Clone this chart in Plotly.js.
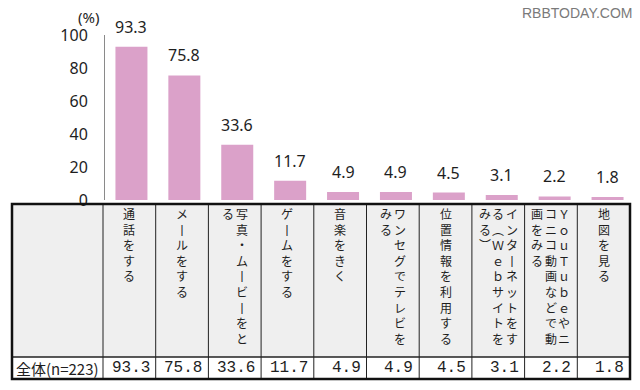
<!DOCTYPE html>
<html><head><meta charset="utf-8">
<script src="https://cdn.plot.ly/plotly-3.0.1.min.js"></script>
<style>html,body{margin:0;padding:0;background:#fff;}#chart{width:640px;height:390px;}</style>
</head><body><div id="chart"></div>
<script>
// ---- data ----
const categories = ["通話をする","メールをする","写真・ムービーをとる","ゲームをする","音楽をきく","ワンセグでテレビをみる","位置情報を利用する","インターネットをする（Ｗｅｂサイトをみる）","ＹｏｕＴｕｂｅやニコニコ動画などで動画をみる","地図を見る"];
const values = [93.3, 75.8, 33.6, 11.7, 4.9, 4.9, 4.5, 3.1, 2.2, 1.8];
const tableValues = ["93.3","75.8","33.6","11.7","4.9","4.9","4.5","3.1","2.2","1.8"];
const rowLabel = "全体(n=223)";
const yTicks = [0, 20, 40, 60, 80, 100];
const unitLabel = "(%)";
const watermark = "RBBTODAY.COM";

// ---- geometry (pixels) ----
const W = 640, H = 390;
const plotL = 105, plotR = 634, plotT = 35, plotB = 200;
const pw = plotR - plotL, ph = plotB - plotT;
const px2x = p => (p - plotL) / pw;
const py2y = p => (plotB - p) / ph;
const tL = 12, tR = 630, tTop = 204, tHead = 357, tBot = 379, c0 = 103;
const colW = (tR - c0) / categories.length;

const barColor = "#DBA1C9";
const txt = "#1e1e1e";

const shapes = [];
const annotations = [];

// table background + lines
shapes.push({type:"rect", xref:"paper", yref:"paper", x0:px2x(tL), x1:px2x(tR), y0:py2y(tTop), y1:py2y(tHead), fillcolor:"#efefef", line:{width:0}, layer:"below"});
for (let i = 0; i < categories.length; i++) {
  const x = c0 + i * colW;
  shapes.push({type:"line", xref:"paper", yref:"paper", x0:px2x(x), x1:px2x(x), y0:py2y(tTop), y1:py2y(tBot), line:{color:"#222", width:1}});
}
shapes.push({type:"line", xref:"paper", yref:"paper", x0:px2x(tL), x1:px2x(tR), y0:py2y(tHead), y1:py2y(tHead), line:{color:"#222", width:1.5}});
shapes.push({type:"rect", xref:"paper", yref:"paper", x0:px2x(tL), x1:px2x(tR), y0:py2y(tTop), y1:py2y(tBot), line:{color:"#111", width:2.5}});

// vertical header labels
const vmap = {"ー":"丨","（":"︵","）":"︶"};
const perCol = 9, pitch = 13.5;
categories.forEach((c, i) => {
  const chars = Array.from(c).map(ch => vmap[ch] || ch);
  const chunks = [];
  for (let k = 0; k < chars.length; k += perCol) chunks.push(chars.slice(k, k + perCol));
  const cx = c0 + (i + 0.5) * colW;
  chunks.forEach((chunk, j) => {
    const x = cx + (chunks.length - 1) / 2 * pitch - j * pitch;
    annotations.push({xref:"paper", yref:"paper", x:px2x(x), y:py2y(203), xanchor:"center", yanchor:"top",
      text: chunk.join("<br>"), showarrow:false, align:"center",
      font:{family:"Noto Sans CJK JP", size:12, color:txt}});
  });
  // table value
  annotations.push({xref:"paper", yref:"paper", x:px2x(c0 + (i + 1) * colW - 4), y:py2y(368), xanchor:"right", yanchor:"middle",
    text: tableValues[i], showarrow:false, font:{family:"Liberation Mono", size:16, color:txt}});
  // bar value label
  annotations.push({xref:"x", yref:"y", x:c, y:values[i], xanchor:"center", yanchor:"bottom", yshift:7,
    text: values[i].toFixed(1), showarrow:false, font:{family:"Noto Sans", size:16, color:txt}});
});
annotations.push({xref:"paper", yref:"paper", x:px2x(14), y:py2y(368), xanchor:"left", yanchor:"middle",
  text: rowLabel, showarrow:false, font:{family:"Noto Sans CJK JP", size:15, color:txt}});
annotations.push({xref:"paper", yref:"paper", x:px2x(88), y:py2y(17), xanchor:"center", yanchor:"middle",
  text: unitLabel, showarrow:false, font:{family:"Noto Sans", size:15, color:txt}});
annotations.push({xref:"paper", yref:"paper", x:px2x(634), y:py2y(13), xanchor:"right", yanchor:"middle",
  text: watermark, showarrow:false, font:{family:"Liberation Sans", size:14, color:"#7a7a7a"}});

const trace = {type:"bar", x:categories, y:values, marker:{color:barColor, line:{width:0}}, hoverinfo:"none"};

const layout = {
  width:W, height:H, autosize:false,
  margin:{l:plotL, r:W - plotR, t:plotT, b:H - plotB, pad:0},
  paper_bgcolor:"#fff", plot_bgcolor:"rgba(0,0,0,0)",
  showlegend:false, bargap:0.395,
  xaxis:{type:"category", showticklabels:false, showgrid:false, zeroline:false, showline:false, ticks:"", range:[-0.5, 9.5], fixedrange:true},
  yaxis:{range:[0, 100 * ph / (ph - 0.66)], tickvals:yTicks, ticktext:yTicks.map(String), showgrid:false, zeroline:false,
    showline:true, linecolor:"#8a8a8a", linewidth:1, ticks:"", ticklabelstandoff:13,
    tickfont:{family:"Noto Sans", size:16, color:txt}, fixedrange:true},
  shapes, annotations
};
Plotly.newPlot("chart", [trace], layout, {displayModeBar:false, staticPlot:true});
</script></body></html>
